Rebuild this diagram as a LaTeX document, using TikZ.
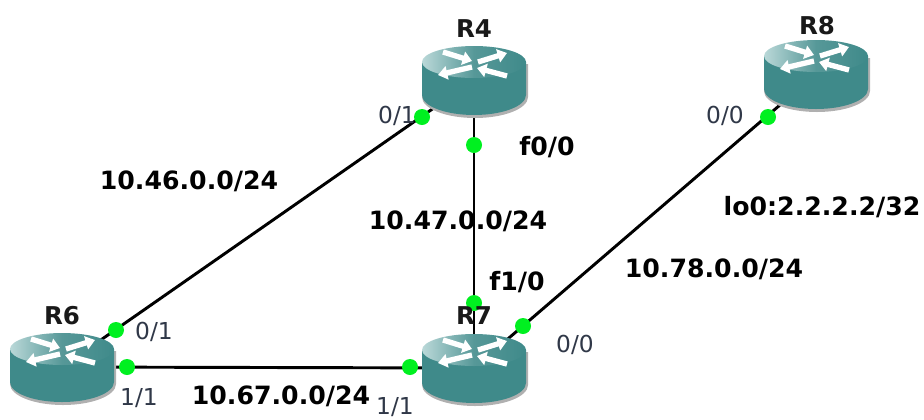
\documentclass[tikz,border=0pt]{standalone}
\usepackage{fontspec}
\setmainfont{DejaVu Sans}
\usetikzlibrary{arrows.meta}
\definecolor{rteal}{HTML}{3F8A8A}
\definecolor{rlight}{HTML}{BAD8D8}
\definecolor{rshadow}{HTML}{B0B0B0}
\definecolor{ifgreen}{HTML}{00F020}
\definecolor{ifgray}{HTML}{303848}
\tikzset{
  x=0.75pt,y=-0.75pt,
  routerbox/.style={inner sep=0pt,minimum width=78.75pt,minimum height=51pt},
  link/.style={line width=2.2pt,black},
  dotnode/.style={circle,fill=ifgreen,inner sep=0pt,minimum size=12pt},
  boldlabel/.style={font=\fontsize{18.9}{20}\selectfont\bfseries,text=black,inner sep=0pt},
  namelabel/.style={font=\fontsize{18.4}{20}\selectfont\bfseries,text=black!90,inner sep=0pt},
  iflabel/.style={font=\fontsize{17.5}{20}\selectfont,text=ifgray,inner sep=0pt},
  rarrow/.style={white,line width=4pt,-{Triangle[length=7pt,width=10pt]}}
}
\newcommand{\routerart}[1]{%
  \begin{scope}[shift={(#1)}]
    \fill[rshadow] (-52,-16) -- (-52,17) arc[start angle=180,end angle=0,x radius=53,y radius=21] -- (54,-16) -- cycle;
    \fill[rteal] (-52,-18) -- (-52,15) arc[start angle=180,end angle=0,x radius=52,y radius=20] -- (52,-18) -- cycle;
    \shade[left color=rlight,right color=rteal,middle color=rteal!88!white,shading angle=90] (0,-18) ellipse[x radius=52,y radius=16];
    \draw[rarrow] (-31,-28) -- (-2,-19);
    \draw[rarrow] (4,-18) -- (33,-27);
    \draw[rarrow] (-2,-13) -- (-36,-5);
    \draw[rarrow] (33,-4) -- (3,-12);
  \end{scope}}
\begin{document}
\begin{tikzpicture}
\useasboundingbox (0,0) rectangle (924,419);
\node[routerbox] (r4) at (474,80) {};
\node[routerbox] (r8) at (816,74) {};
\node[routerbox] (r6) at (62,367) {};
\node[routerbox] (r7) at (474,368) {};
\draw[link] (r4.center) -- (r6.center);
\draw[link] (r4.center) -- (r7.center);
\draw[link] (r6.center) -- (r7.center);
\draw[link] (r7.center) -- (r8.center);
\routerart{r4}
\routerart{r8}
\routerart{r6}
\routerart{r7}
\node[dotnode] (d1) at (422,117) {};
\node[dotnode] (d2) at (474,145) {};
\node[dotnode] (d3) at (768,117) {};
\node[dotnode] (d4) at (116,330) {};
\node[dotnode] (d5) at (127,367) {};
\node[dotnode] (d6) at (410,367) {};
\node[dotnode] (d7) at (474,303) {};
\node[dotnode] (d8) at (523,326) {};
\node[namelabel] (n4) at (474,29) {R4};
\node[namelabel] (n8) at (817,26) {R8};
\node[namelabel] (n6) at (62,316) {R6};
\node[namelabel] (n7) at (474,316) {R7};
\node[boldlabel] (l1) at (189,181) {10.46.0.0/24};
\node[boldlabel] (l2) at (458,221) {10.47.0.0/24};
\node[boldlabel] (l3) at (714,269) {10.78.0.0/24};
\node[boldlabel] (l4) at (281,396) {10.67.0.0/24};
\node[boldlabel] (l5) at (822,207) {lo0:2.2.2.2/32};
\node[boldlabel] (l6) at (547,147) {f0/0};
\node[boldlabel] (l7) at (517,282) {f1/0};
\node[iflabel] (i1) at (397,116) {0/1};
\node[iflabel] (i2) at (725,116) {0/0};
\node[iflabel] (i3) at (154,332) {0/1};
\node[iflabel] (i4) at (139,398) {1/1};
\node[iflabel] (i5) at (395,407) {1/1};
\node[iflabel] (i6) at (575,345) {0/0};
\end{tikzpicture}
\end{document}
